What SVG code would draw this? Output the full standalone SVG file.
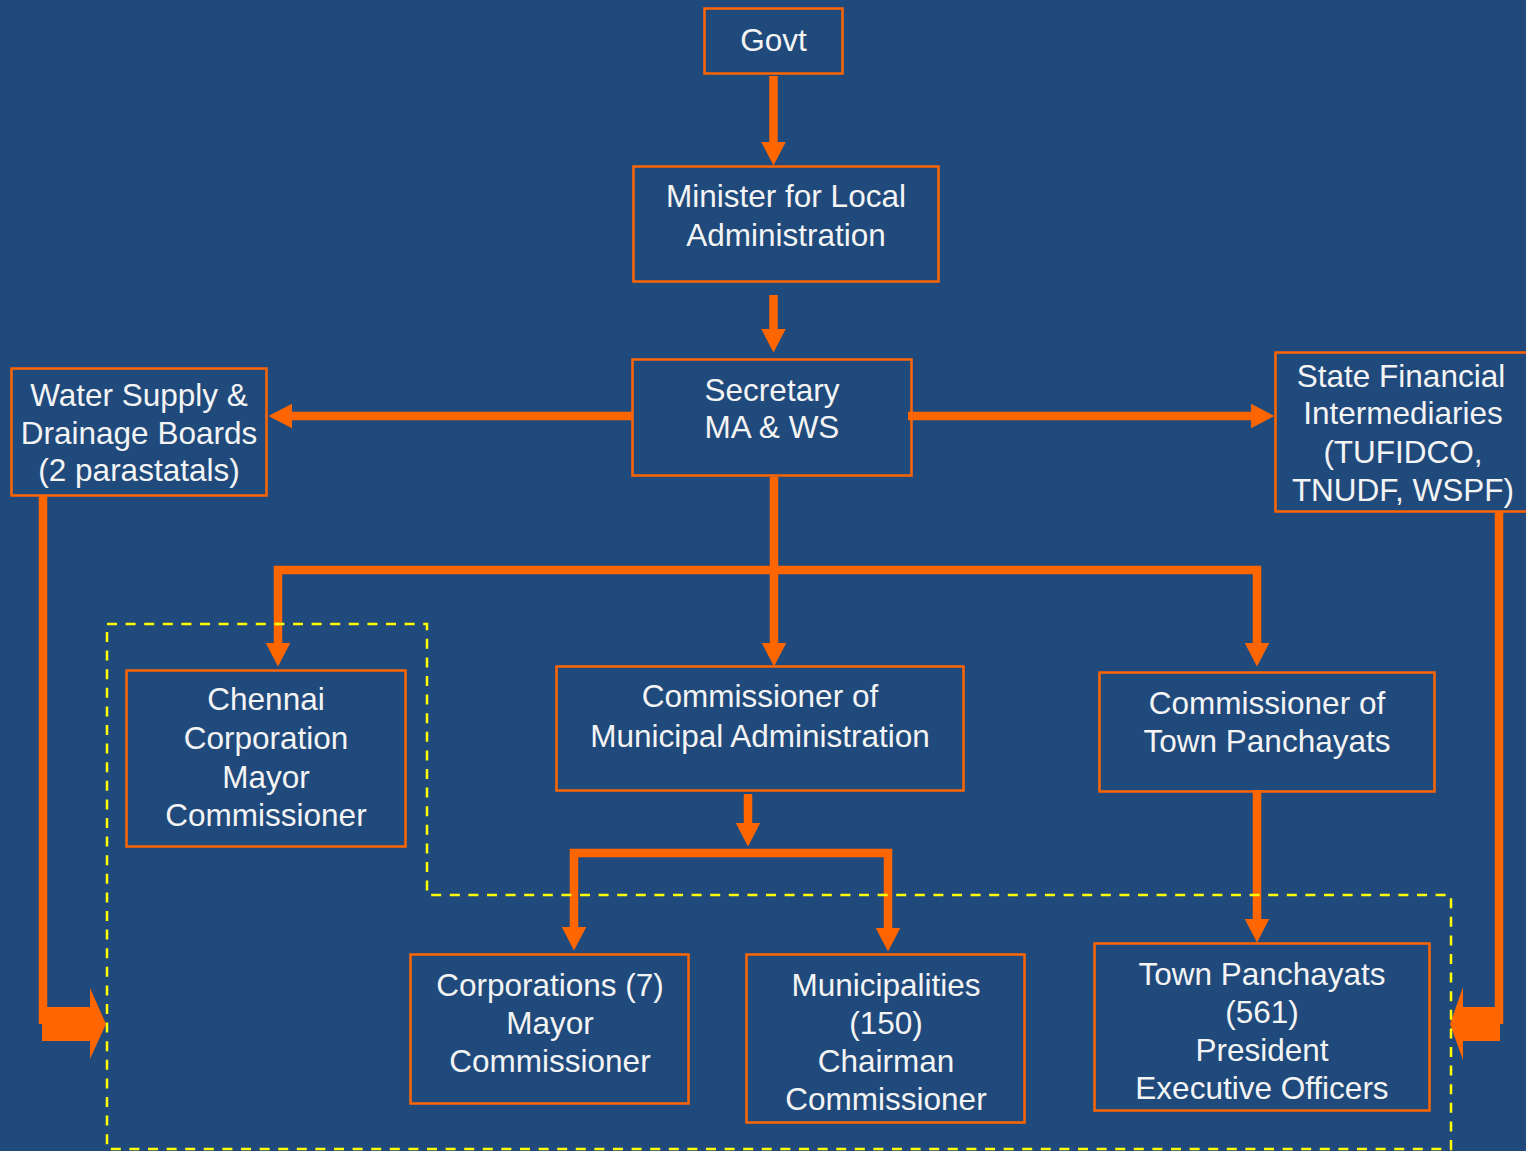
<svg xmlns="http://www.w3.org/2000/svg" width="1526" height="1151" viewBox="0 0 1526 1151">
<defs>
<style>
.box{fill:none;stroke:#FF6600;stroke-width:2.5}
.t{font-family:"Liberation Sans",Arial,sans-serif;font-size:31.5px;fill:#F4F4F4;text-anchor:middle}
.c{fill:none;stroke:#FF6600;stroke-width:8.5;stroke-linejoin:miter;stroke-linecap:butt}
.blk{fill:#FF6600}
.dash{fill:none;stroke:#FFFF00;stroke-width:2.5;stroke-dasharray:10 8.6}
</style>
<marker id="ah" markerUnits="userSpaceOnUse" markerWidth="24" markerHeight="25" refX="0" refY="12.25" orient="auto-start-reverse" viewBox="0 0 24 24.5">
<path d="M0,0 L23.5,12.25 L0,24.5 z" fill="#FF6600"/>
</marker>
</defs>
<rect x="0" y="0" width="1526" height="1151" fill="#204A7C"/>

<g id="connectors">
<path class="c" d="M773.5,76 V142" marker-end="url(#ah)"/>
<path class="c" d="M773.5,295 V329" marker-end="url(#ah)"/>
<path class="c" d="M633,416 H292" marker-end="url(#ah)"/>
<path class="c" d="M908,416 H1251" marker-end="url(#ah)"/>
<path class="c" d="M774,477 V643" marker-end="url(#ah)"/>
<path class="c" d="M278,643 V570 H1257 V643" marker-start="url(#ah)" marker-end="url(#ah)"/>
<path class="c" d="M748,794 V823" marker-end="url(#ah)"/>
<path class="c" d="M574,927 V853 H888 V928" marker-start="url(#ah)" marker-end="url(#ah)"/>
<path class="c" d="M1257,790 V919" marker-end="url(#ah)"/>
<path class="c" d="M43,496 V1024"/>
<polygon class="blk" points="42,1007 90,1007 90,988 106,1024 90,1059 90,1041 42,1041"/>
<path class="c" d="M1499,512 V1024"/>
<polygon class="blk" points="1500,1007 1463,1007 1463,987 1450,1024 1463,1060 1463,1041 1500,1041"/>
</g>

<g id="govt">
<rect class="box" x="704.5" y="8.5" width="138" height="65"/>
<text class="t" x="773.5" y="51">Govt</text>
</g>
<g id="minister">
<rect class="box" x="633.5" y="166.5" width="305" height="115"/>
<text class="t" x="786" y="207">Minister for Local</text>
<text class="t" x="786" y="246">Administration</text>
</g>
<g id="secretary">
<rect class="box" x="632.5" y="359.5" width="279" height="116"/>
<text class="t" x="772" y="401">Secretary</text>
<text class="t" x="772" y="438">MA &amp; WS</text>
</g>
<g id="water">
<rect class="box" x="11.5" y="368.5" width="255" height="127"/>
<text class="t" x="139" y="406">Water Supply &amp;</text>
<text class="t" x="139" y="444">Drainage Boards</text>
<text class="t" x="139" y="481">(2 parastatals)</text>
</g>
<g id="statefin">
<rect class="box" x="1275.5" y="352.5" width="260" height="159"/>
<text class="t" x="1401" y="387">State Financial</text>
<text class="t" x="1403" y="424">Intermediaries</text>
<text class="t" x="1403" y="463">(TUFIDCO,</text>
<text class="t" x="1403" y="501">TNUDF, WSPF)</text>
</g>
<g id="chennai">
<rect class="box" x="126.5" y="670.5" width="279" height="176"/>
<text class="t" x="266" y="710">Chennai</text>
<text class="t" x="266" y="749">Corporation</text>
<text class="t" x="266" y="788">Mayor</text>
<text class="t" x="266" y="826">Commissioner</text>
</g>
<g id="cma">
<rect class="box" x="556.5" y="666.5" width="407" height="124"/>
<text class="t" x="760" y="707">Commissioner of</text>
<text class="t" x="760" y="747">Municipal Administration</text>
</g>
<g id="ctp">
<rect class="box" x="1099.5" y="672.5" width="335" height="119"/>
<text class="t" x="1267" y="714">Commissioner of</text>
<text class="t" x="1267" y="752">Town Panchayats</text>
</g>
<g id="corporations">
<rect class="box" x="410.5" y="954.5" width="278" height="149"/>
<text class="t" x="550" y="996">Corporations (7)</text>
<text class="t" x="550" y="1034">Mayor</text>
<text class="t" x="550" y="1072">Commissioner</text>
</g>
<g id="municipalities">
<rect class="box" x="746.5" y="954.5" width="278" height="168"/>
<text class="t" x="886" y="996">Municipalities</text>
<text class="t" x="886" y="1034">(150)</text>
<text class="t" x="886" y="1072">Chairman</text>
<text class="t" x="886" y="1110">Commissioner</text>
</g>
<g id="townpanchayats">
<rect class="box" x="1094.5" y="943.5" width="335" height="167"/>
<text class="t" x="1262" y="985">Town Panchayats</text>
<text class="t" x="1262" y="1023">(561)</text>
<text class="t" x="1262" y="1061">President</text>
<text class="t" x="1262" y="1099">Executive Officers</text>
</g>

<g id="boundary">
<polygon class="dash" points="107,624 427,624 427,895 1451,895 1451,1149 107,1149"/>
</g>
</svg>
